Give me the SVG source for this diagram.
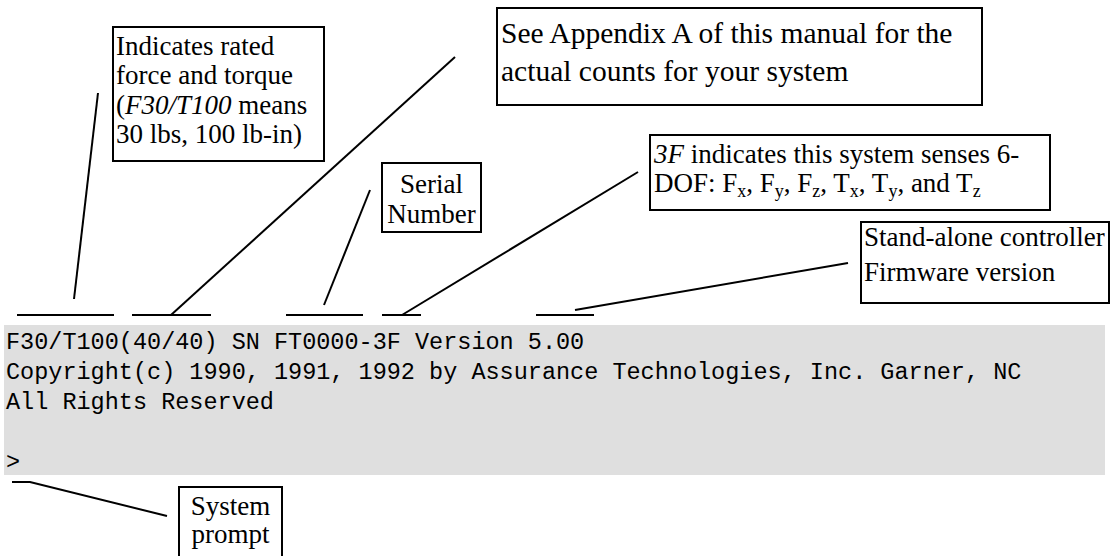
<svg xmlns="http://www.w3.org/2000/svg" width="1110" height="556" viewBox="0 0 1110 556">
<style>
.box{fill:#fff;stroke:#000;stroke-width:2}
.t{font-family:"Liberation Serif","Times New Roman",serif;font-size:27px;fill:#000}
.big{font-size:29.5px}
.sub{font-size:18px}
.m{font-family:"Liberation Mono","Courier New",monospace;font-size:23.5px;fill:#000}
.ln{stroke:#000;stroke-width:2;fill:none}
</style>
<rect width="1110" height="556" fill="#fff"/>
<g id="terminal">
<rect x="4" y="325" width="1101" height="150" fill="#dfdfdf"/>
<text class="m" x="6" y="349">F30/T100(40/40) SN FT0000-3F Version 5.00</text>
<text class="m" x="6" y="379">Copyright(c) 1990, 1991, 1992 by Assurance Technologies, Inc. Garner, NC</text>
<text class="m" x="6" y="409">All Rights Reserved</text>
<text class="m" x="6" y="469">&gt;</text>
</g>
<g id="connectors">
<line class="ln" x1="17" y1="315" x2="114" y2="315"/>
<line class="ln" x1="132" y1="315" x2="211" y2="315"/>
<line class="ln" x1="286" y1="315" x2="363" y2="315"/>
<line class="ln" x1="382" y1="315" x2="421" y2="315"/>
<line class="ln" x1="536" y1="315" x2="594" y2="315"/>
<line class="ln" x1="74" y1="299" x2="98" y2="93"/>
<line class="ln" x1="171" y1="315" x2="455" y2="57"/>
<line class="ln" x1="324" y1="305" x2="370" y2="190"/>
<line class="ln" x1="402" y1="315" x2="638" y2="172"/>
<line class="ln" x1="575" y1="310" x2="848" y2="263"/>
<polyline class="ln" points="12,482 30,482 167,516"/>
</g>
<g id="rated-force">
<rect class="box" x="113" y="27" width="211" height="134"/>
<text class="t" x="116" y="55">Indicates rated</text>
<text class="t" x="116" y="84">force and torque</text>
<text class="t" x="116" y="114">(<tspan font-style="italic">F30/T100</tspan> means</text>
<text class="t" x="116" y="143">30 lbs, 100 lb-in)</text>
</g>
<g id="appendix">
<rect class="box" x="497" y="8" width="485" height="97"/>
<text class="t big" x="501" y="43">See Appendix A of this manual for the</text>
<text class="t big" x="501" y="81">actual counts for your system</text>
</g>
<g id="serial">
<rect class="box" x="382" y="163" width="99" height="69"/>
<text class="t" x="431.5" y="193" text-anchor="middle">Serial</text>
<text class="t" x="431.5" y="223" text-anchor="middle">Number</text>
</g>
<g id="dof">
<rect class="box" x="650" y="135" width="400" height="75"/>
<text class="t" x="654" y="163"><tspan font-style="italic">3F</tspan> indicates this system senses 6-</text>
<text class="t" x="654" y="192">DOF: F<tspan class="sub" dy="5">x</tspan><tspan dy="-5">, F</tspan><tspan class="sub" dy="5">y</tspan><tspan dy="-5">, F</tspan><tspan class="sub" dy="5">z</tspan><tspan dy="-5">, T</tspan><tspan class="sub" dy="5">x</tspan><tspan dy="-5">, T</tspan><tspan class="sub" dy="5">y</tspan><tspan dy="-5">, and T</tspan><tspan class="sub" dy="5">z</tspan></text>
</g>
<g id="firmware">
<rect class="box" x="861" y="222" width="248" height="81"/>
<text class="t" x="864" y="246">Stand-alone controller</text>
<text class="t" x="864" y="281">Firmware version</text>
</g>
<g id="prompt">
<rect class="box" x="179" y="487" width="103" height="80"/>
<text class="t" x="230.5" y="515" text-anchor="middle">System</text>
<text class="t" x="230.5" y="543" text-anchor="middle">prompt</text>
</g>
</svg>
